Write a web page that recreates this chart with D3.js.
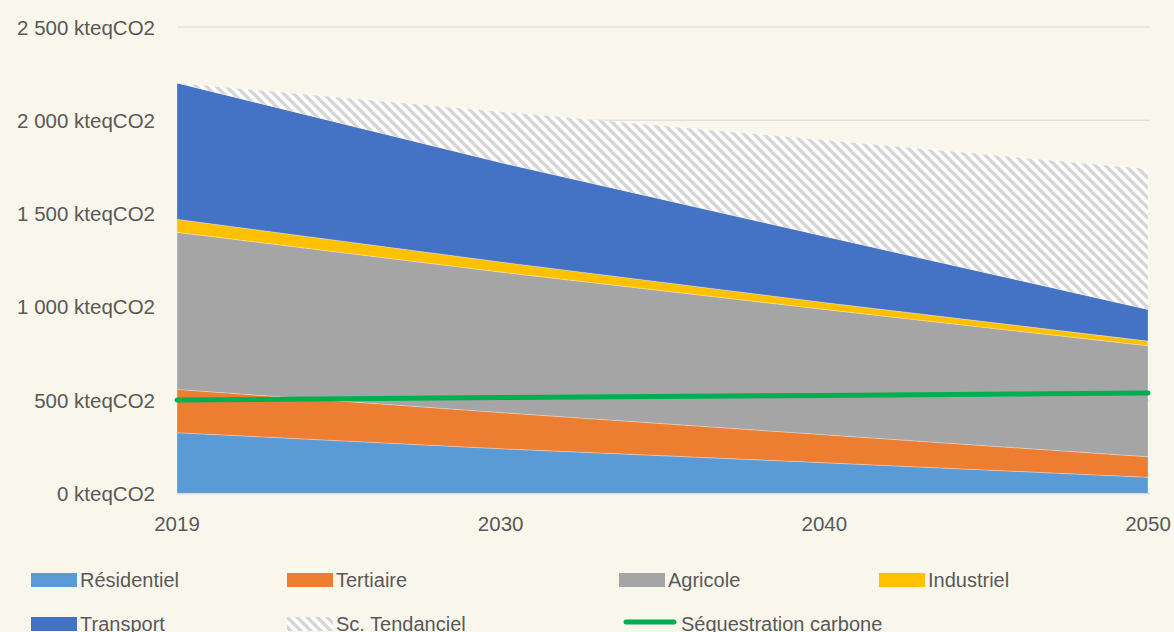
<!DOCTYPE html>
<html>
<head>
<meta charset="utf-8">
<script src="https://cdn.jsdelivr.net/npm/d3@7"></script>
<style>
  html, body { margin: 0; padding: 0; background: #f9f7ec; }
  svg { display: block; font-family: "Liberation Sans", Arial, sans-serif; }
</style>
</head>
<body>
<svg id="chart" width="1174" height="632"></svg>
<script>
// years on a category axis
var years = ["2019", "2030", "2040", "2050"];

// stacked emissions, kteqCO2
var residentiel = [325, 239, 164, 86];
var tertiaire   = [232, 194, 150, 110];
var agricole    = [842, 753, 672, 595];
var industriel  = [70, 54, 37, 25];
var transport   = [731, 533, 355, 170];
var tendanciel  = [0, 273, 516, 753];   // gap up to the trend scenario
var sequestration = [500, 513, 525, 538];

var yTicks = [0, 500, 1000, 1500, 2000, 2500];

var series = [
  { key: "Résidentiel", values: residentiel, color: "#5b9bd5" },
  { key: "Tertiaire", values: tertiaire, color: "#ed7d31" },
  { key: "Agricole", values: agricole, color: "#a5a5a5" },
  { key: "Industriel", values: industriel, color: "#ffc000" },
  { key: "Transport", values: transport, color: "#4472c4" },
  { key: "Sc. Tendanciel", values: tendanciel, color: "url(#hatch)" }
];

(function () {
var svg = d3.select("#chart");
var plotL = 177, plotR = 1148, plotT = 27, plotB = 493.3;

var x = d3.scalePoint().domain(years).range([plotL, plotR]);
var y = d3.scaleLinear().domain([0, 2500]).range([plotB, plotT]);

// hatch pattern for the trend scenario
var defs = svg.append("defs");
var pat = defs.append("pattern")
    .attr("id", "hatch")
    .attr("patternUnits", "userSpaceOnUse")
    .attr("width", 10).attr("height", 10);
pat.append("rect").attr("width", 10).attr("height", 10).attr("fill", "#ffffff");
pat.append("path")
    .attr("d", "M-2,-2 L12,12 M-2,8 L2,12 M8,-2 L12,2")
    .attr("stroke", "#d6d6d6").attr("stroke-width", 3.4);

// grid lines
svg.append("g").selectAll("line")
  .data(yTicks)
  .join("line")
    .attr("x1", plotL).attr("x2", plotR + 2)
    .attr("y1", d => y(d)).attr("y2", d => y(d))
    .attr("stroke", "#d9d9d9").attr("stroke-width", 1);

// stacked areas
var table = years.map(function (yr, i) {
  var row = { year: yr };
  series.forEach(function (s) { row[s.key] = s.values[i]; });
  return row;
});
var stack = d3.stack().keys(series.map(s => s.key));
var layers = stack(table);

var area = d3.area()
    .x(d => x(d.data.year))
    .y0(d => y(d[0]))
    .y1(d => y(d[1]));

svg.append("g").selectAll("path")
  .data(layers)
  .join("path")
    .attr("d", area)
    .attr("fill", (d, i) => series[i].color)
    .attr("stroke", "#ffffff").attr("stroke-opacity", 0.35).attr("stroke-width", 0.8);

// x axis line
svg.append("line")
    .attr("x1", plotL).attr("x2", plotR + 2)
    .attr("y1", plotB + 0.5).attr("y2", plotB + 0.5)
    .attr("stroke", "#d9d9d9");

// carbon sequestration line
var line = d3.line()
    .x((d, i) => x(years[i]))
    .y(d => y(d));
svg.append("path")
    .datum(sequestration)
    .attr("d", line)
    .attr("fill", "none")
    .attr("stroke", "#00b050").attr("stroke-width", 5)
    .attr("stroke-linecap", "round");

// y labels
var fmt = d => d3.format(",")(d).replace(/,/g, " ") + " kteqCO2";
svg.append("g").selectAll("text")
  .data(yTicks)
  .join("text")
    .attr("x", 155).attr("y", d => y(d) + 7.5)
    .attr("text-anchor", "end")
    .attr("font-size", 20.5).attr("fill", "#595959")
    .text(fmt);

// x labels
svg.append("g").selectAll("text")
  .data(years)
  .join("text")
    .attr("x", d => x(d)).attr("y", 531)
    .attr("text-anchor", "middle")
    .attr("font-size", 20.5).attr("fill", "#595959")
    .text(d => d);

// legend
var legendItems = [
  { key: "Résidentiel", color: "#5b9bd5", col: 0, row: 0 },
  { key: "Tertiaire", color: "#ed7d31", col: 1, row: 0 },
  { key: "Agricole", color: "#a5a5a5", col: 2, row: 0 },
  { key: "Industriel", color: "#ffc000", col: 3, row: 0 },
  { key: "Transport", color: "#4472c4", col: 0, row: 1 },
  { key: "Sc. Tendanciel", color: "url(#hatch)", col: 1, row: 1 },
  { key: "Séquestration carbone", color: "#00b050", col: 2, row: 1, line: true }
];
var colX = [31, 287, 619, 879];
var rowY = [573, 617];

var lg = svg.append("g").selectAll("g")
  .data(legendItems)
  .join("g")
    .attr("transform", d => "translate(" + colX[d.col] + "," + rowY[d.row] + ")");

lg.filter(d => !d.line).append("rect")
    .attr("width", 46).attr("height", 14)
    .attr("fill", d => d.color);
lg.filter(d => d.line).append("line")
    .attr("x1", 7).attr("x2", 55).attr("y1", 5).attr("y2", 5)
    .attr("stroke", d => d.color).attr("stroke-width", 5)
    .attr("stroke-linecap", "round");
lg.append("text")
    .attr("x", d => d.line ? 62 : 49).attr("y", 14)
    .attr("font-size", 20).attr("fill", "#595959")
    .text(d => d.key);
})();
</script>
</body>
</html>
